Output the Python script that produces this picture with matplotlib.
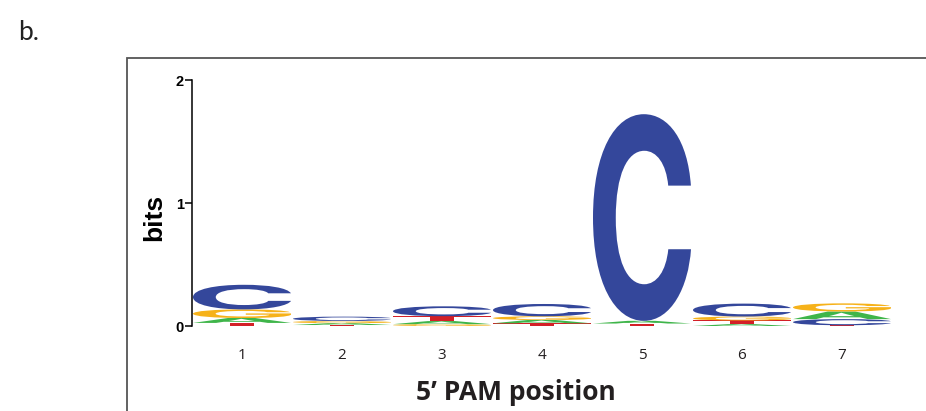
import numpy as np
import matplotlib
matplotlib.use("Agg")
import matplotlib.pyplot as plt
from matplotlib.textpath import TextPath
from matplotlib.patches import PathPatch, Rectangle
from matplotlib.font_manager import FontProperties
from matplotlib.transforms import Affine2D

# information content (bits) per letter at each PAM position
positions = [1, 2, 3, 4, 5, 6, 7]
bits_A = [0.040, 0.015, 0.025, 0.027, 0.022, 0.015, 0.062]
bits_C = [0.200, 0.035, 0.080, 0.100, 1.680, 0.105, 0.050]
bits_G = [0.070, 0.018, 0.015, 0.030, 0.000, 0.032, 0.066]
bits_T = [0.025, 0.008, 0.040, 0.022, 0.020, 0.030, 0.006]
tick_labels = ['1', '2', '3', '4', '5', '6', '7']

colors = {'A': '#3fb54a', 'C': '#34479b', 'G': '#f6b21a', 'T': '#d32027'}
letter_font = FontProperties(family='Inter', weight='bold')

def draw_letter(ax, letter, x0, y0, w, h):
    if h <= 0:
        return
    tp = TextPath((0, 0), letter, size=1, prop=letter_font)
    bb = tp.get_extents()
    tr = Affine2D().translate(-bb.x0, -bb.y0).scale(w / bb.width, h / bb.height).translate(x0, y0)
    path = tr.transform_path(tp)
    ax.add_patch(PathPatch(path, facecolor=colors[letter], edgecolor='none', lw=0))

fig = plt.figure(figsize=(9.26, 4.11), dpi=100)
ax = fig.add_axes([192/926, 1-326/411, 700/926, 246/411])

data = {'A': bits_A, 'C': bits_C, 'G': bits_G, 'T': bits_T}
for i, p in enumerate(positions):
    # smallest letter at the bottom, largest on top
    col = sorted(data.keys(), key=lambda k: data[k][i])
    y = 0.0
    for k in col:
        h = data[k][i]
        draw_letter(ax, k, p - 0.49, y, 0.98, h)
        y += h

ax.set_xlim(0.5, 7.5)
ax.set_ylim(0, 2)
for s in ['top', 'right', 'bottom']:
    ax.spines[s].set_visible(False)
ax.spines['left'].set_linewidth(1.1)
ax.set_yticks([0, 1, 2])
ax.set_yticklabels(['0', '1', '2'], fontfamily='Liberation Sans', fontweight='bold', fontsize=10.5)
ax.tick_params(axis='y', length=5, width=1.1, pad=1)
ax.set_xticks(positions)
ax.set_xticklabels(tick_labels, fontfamily='Open Sans', fontsize=11, color='#231f20')
ax.tick_params(axis='x', length=0, pad=16)
ax.set_xlabel('5\u2019 PAM position', fontfamily='Open Sans', fontweight='bold', fontsize=19, color='#231f20')
ax.xaxis.set_label_coords(0.463, -0.215)
ax.set_ylabel('bits', fontfamily='Liberation Sans', fontweight='bold', fontsize=19)
ax.yaxis.set_label_coords(-0.037, 0.44)

fig.add_artist(Rectangle((127/926, -0.1), 1.0, 1 - 58/411 + 0.1, transform=fig.transFigure,
                         fill=False, edgecolor='#555555', lw=1.3))
fig.text(18/926, 1 - 40/411, 'b.', fontfamily='Lato', fontsize=19, color='#222222')

fig.savefig('out.png', dpi=100)
